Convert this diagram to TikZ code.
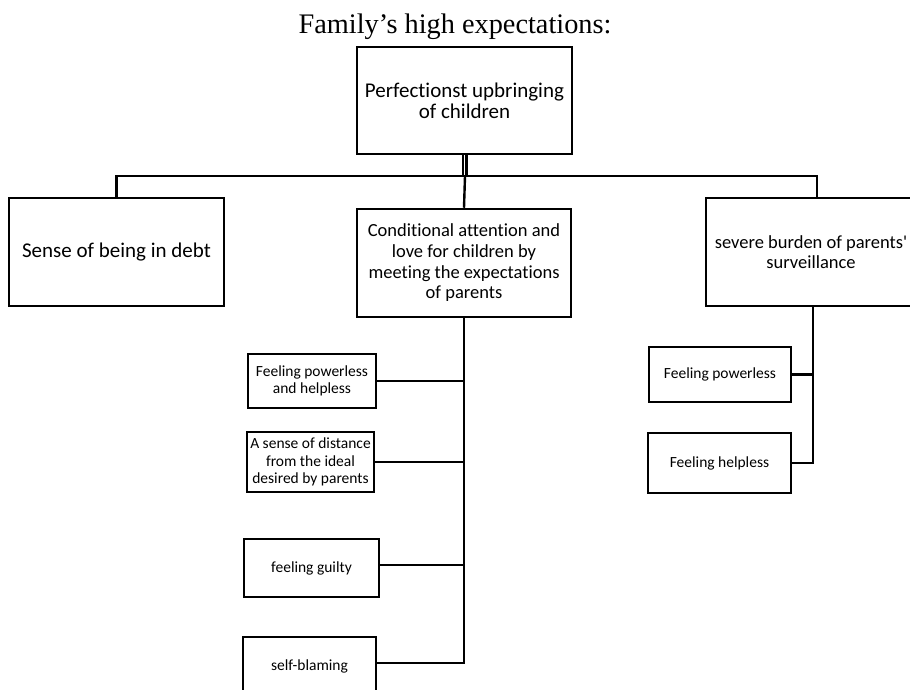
\documentclass[tikz,border=0pt]{standalone}
\usepackage{fontspec}
\setmainfont{Carlito}[Ligatures={NoCommon}]
\newfontfamily\titlefont{Liberation Serif}
\begin{document}
\begin{tikzpicture}[x=1pt,y=-1pt,
  box/.style={draw, line width=2.5pt, inner sep=0pt, align=center, rectangle},
  bigtext/.style={font=\fontsize{18.5}{20.7}\selectfont},
  smalltext/.style={font=\fontsize{15.5}{17.5}\selectfont},
  conn/.style={line width=2.4pt, line join=miter}]
\clip (0,0) rectangle (910,689);
\fill[white] (0,0) rectangle (910,689);
\node[anchor=base, font=\titlefont\fontsize{28.3}{30}\selectfont] (title) at (455,33) {Family’s high expectations:};
\node[box, font=\fontsize{21}{21}\selectfont, minimum width=215pt, minimum height=107pt] (top) at (464.5,100.5) {Perfectionst upbringing\\of children};
\node[box, font=\fontsize{21}{21}\selectfont, minimum width=215pt, minimum height=108pt] (debt) at (116.5,252) {Sense of being in debt};
\node[box, bigtext, minimum width=214pt, minimum height=108pt] (mid) at (464,263) {Conditional attention and\\love for children by\\meeting the expectations\\of parents};
\node[box, bigtext, minimum width=210pt, minimum height=108pt] (burden) at (811,252) {severe burden of parents\textquotesingle\\surveillance};
\node[box, smalltext, minimum width=128pt, minimum height=54pt] (fph) at (312,381) {Feeling powerless\\and helpless};
\node[box, smalltext, minimum width=127pt, minimum height=60pt] (dist) at (310.5,462) {A sense of distance\\from the ideal\\desired by parents};
\node[box, smalltext, minimum width=135pt, minimum height=58pt] (guilty) at (311.5,568) {feeling guilty};
\node[box, smalltext, minimum width=133pt, minimum height=58pt] (blame) at (309.5,666) {self-blaming};
\node[box, smalltext, minimum width=142pt, minimum height=55pt] (fpow) at (720,374.5) {Feeling powerless};
\node[box, smalltext, minimum width=143pt, minimum height=60pt] (fhelp) at (719.5,463) {Feeling helpless};
% top connectors
\coordinate (hub) at (465,176);
\draw[conn] ([xshift=-1.8pt]top.south) -- ++(0,22);
\draw[conn] ([xshift=1.8pt]top.south) -- ++(0,22);
\draw[conn] (debt.north) |- (hub) -| ([xshift=6pt]burden.north);
\draw[conn] (hub) -- (mid.north);
% middle trunk
\coordinate (midtrunk) at (mid.south);
\draw[conn] (mid.south) |- ([yshift=3pt]blame.east);
\draw[conn] (fph.east) -- (fph.east -| midtrunk);
\draw[conn] (dist.east) -- (dist.east -| midtrunk);
\draw[conn] ([yshift=3pt]guilty.east) -- ([yshift=3pt]guilty.east -| midtrunk);
% right trunk
\coordinate (rtrunk) at ([xshift=2pt]burden.south);
\draw[conn] (rtrunk) |- (fhelp.east);
\draw[conn] (fpow.east) -- (fpow.east -| rtrunk);
\end{tikzpicture}
\end{document}
